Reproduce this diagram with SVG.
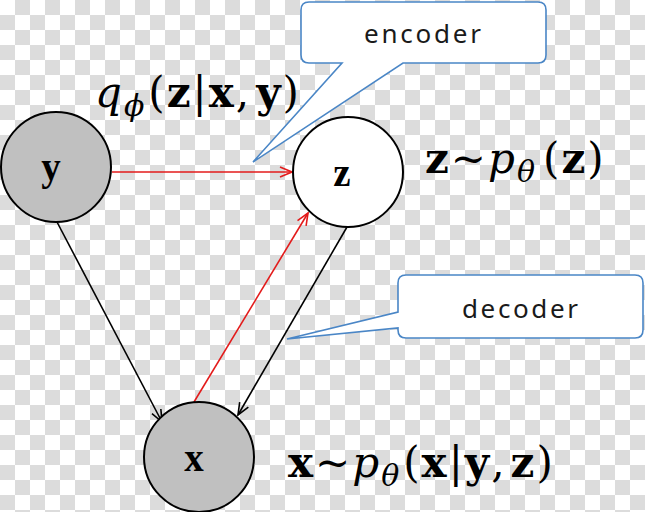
<svg xmlns="http://www.w3.org/2000/svg" width="645" height="512" viewBox="0 0 645 512">
<defs>
<pattern id="chk" x="0" y="0" width="30" height="30" patternUnits="userSpaceOnUse">
<rect width="30" height="30" fill="#ffffff"/>
<rect x="15" y="0" width="15" height="15" fill="#dcdcdc"/>
<rect x="0" y="15" width="15" height="15" fill="#dcdcdc"/>
</pattern>
<marker id="ar" viewBox="0 0 14 12" refX="13" refY="6" markerWidth="14" markerHeight="12" markerUnits="userSpaceOnUse" orient="auto">
<path d="M1,1 L13,6 L1,11" fill="none" stroke="#e31b1b" stroke-width="1.6"/>
</marker>
<marker id="ak" viewBox="0 0 14 12" refX="13" refY="6" markerWidth="14" markerHeight="12" markerUnits="userSpaceOnUse" orient="auto">
<path d="M1,1 L13,6 L1,11" fill="none" stroke="#000" stroke-width="1.6"/>
</marker>
</defs>
<style>
.node{stroke:#000;stroke-width:2}
.obs{fill:#c0c0c0}
.lat{fill:#fff}
.nl{font-family:"Liberation Serif",serif;font-weight:bold;font-size:39px;text-anchor:middle}
.red{stroke:#e31b1b;stroke-width:1.6;fill:none}
.blk{stroke:#000;stroke-width:1.6;fill:none}
.call{fill:#fff;stroke:#4a86c6;stroke-width:1.6}
.ct{font-family:"Noto Sans","Open Sans",sans-serif;font-size:26px;fill:#1a1a1a}
.m{font-family:"DejaVu Serif",serif;font-size:42px;fill:#000;letter-spacing:2px}
.b{font-weight:bold}
.i{font-style:italic}
.s{font-style:italic;font-size:30px}
</style>
<rect width="645" height="512" fill="url(#chk)"/>
<g id="connectors">
<line class="red" x1="112" y1="172" x2="292" y2="172" marker-end="url(#ar)"/>
<line class="red" x1="194" y1="402" x2="308" y2="213" marker-end="url(#ar)"/>
<line class="blk" x1="57" y1="222" x2="162" y2="422" marker-end="url(#ak)"/>
<line class="blk" x1="347" y1="227" x2="238" y2="415" marker-end="url(#ak)"/>
</g>
<g id="node-y">
<circle class="node obs" cx="56" cy="167" r="55"/>
<text class="nl" x="51" y="180">y</text>
</g>
<g id="node-z">
<circle class="node lat" cx="348" cy="172" r="55"/>
<text class="nl" x="342" y="186">z</text>
</g>
<g id="node-x">
<circle class="node obs" cx="199" cy="457" r="55"/>
<text class="nl" x="194" y="471">x</text>
</g>
<g id="encoder-callout">
<path class="call" d="M309,2 H538 Q546,2 546,10 V55 Q546,63 538,63 H403 L253,162 L342,63 H309 Q301,63 301,55 V10 Q301,2 309,2 Z"/>
<text class="ct" x="364" y="43" textLength="117" lengthAdjust="spacing">encoder</text>
</g>
<g id="decoder-callout">
<path class="call" d="M406,275 H635 Q643,275 643,283 V330 Q643,338 635,338 H406 Q398,338 398,330 V328 L287,339 L398,312 V283 Q398,275 406,275 Z"/>
<text class="ct" x="462" y="318" textLength="116" lengthAdjust="spacing">decoder</text>
</g>
<g id="labels">
<text class="m" x="95" y="107"><tspan class="i">q</tspan><tspan class="s" dy="9">ϕ</tspan><tspan dx="2" dy="-9">(</tspan><tspan class="b">z</tspan>|<tspan class="b">x</tspan>,<tspan class="b" dx="5">y</tspan>)</text>
<text class="m" x="425" y="173"><tspan class="b">z</tspan>~<tspan class="i">p</tspan><tspan class="s" dy="9">θ</tspan><tspan dx="6" dy="-9">(</tspan><tspan class="b">z</tspan>)</text>
<text class="m" x="288" y="477"><tspan class="b">x</tspan>~<tspan class="i">p</tspan><tspan class="s" dy="9">θ</tspan><tspan dx="2" dy="-9">(</tspan><tspan class="b">x</tspan>|<tspan class="b">y</tspan>,<tspan class="b" dx="4">z</tspan>)</text>
</g>
</svg>
